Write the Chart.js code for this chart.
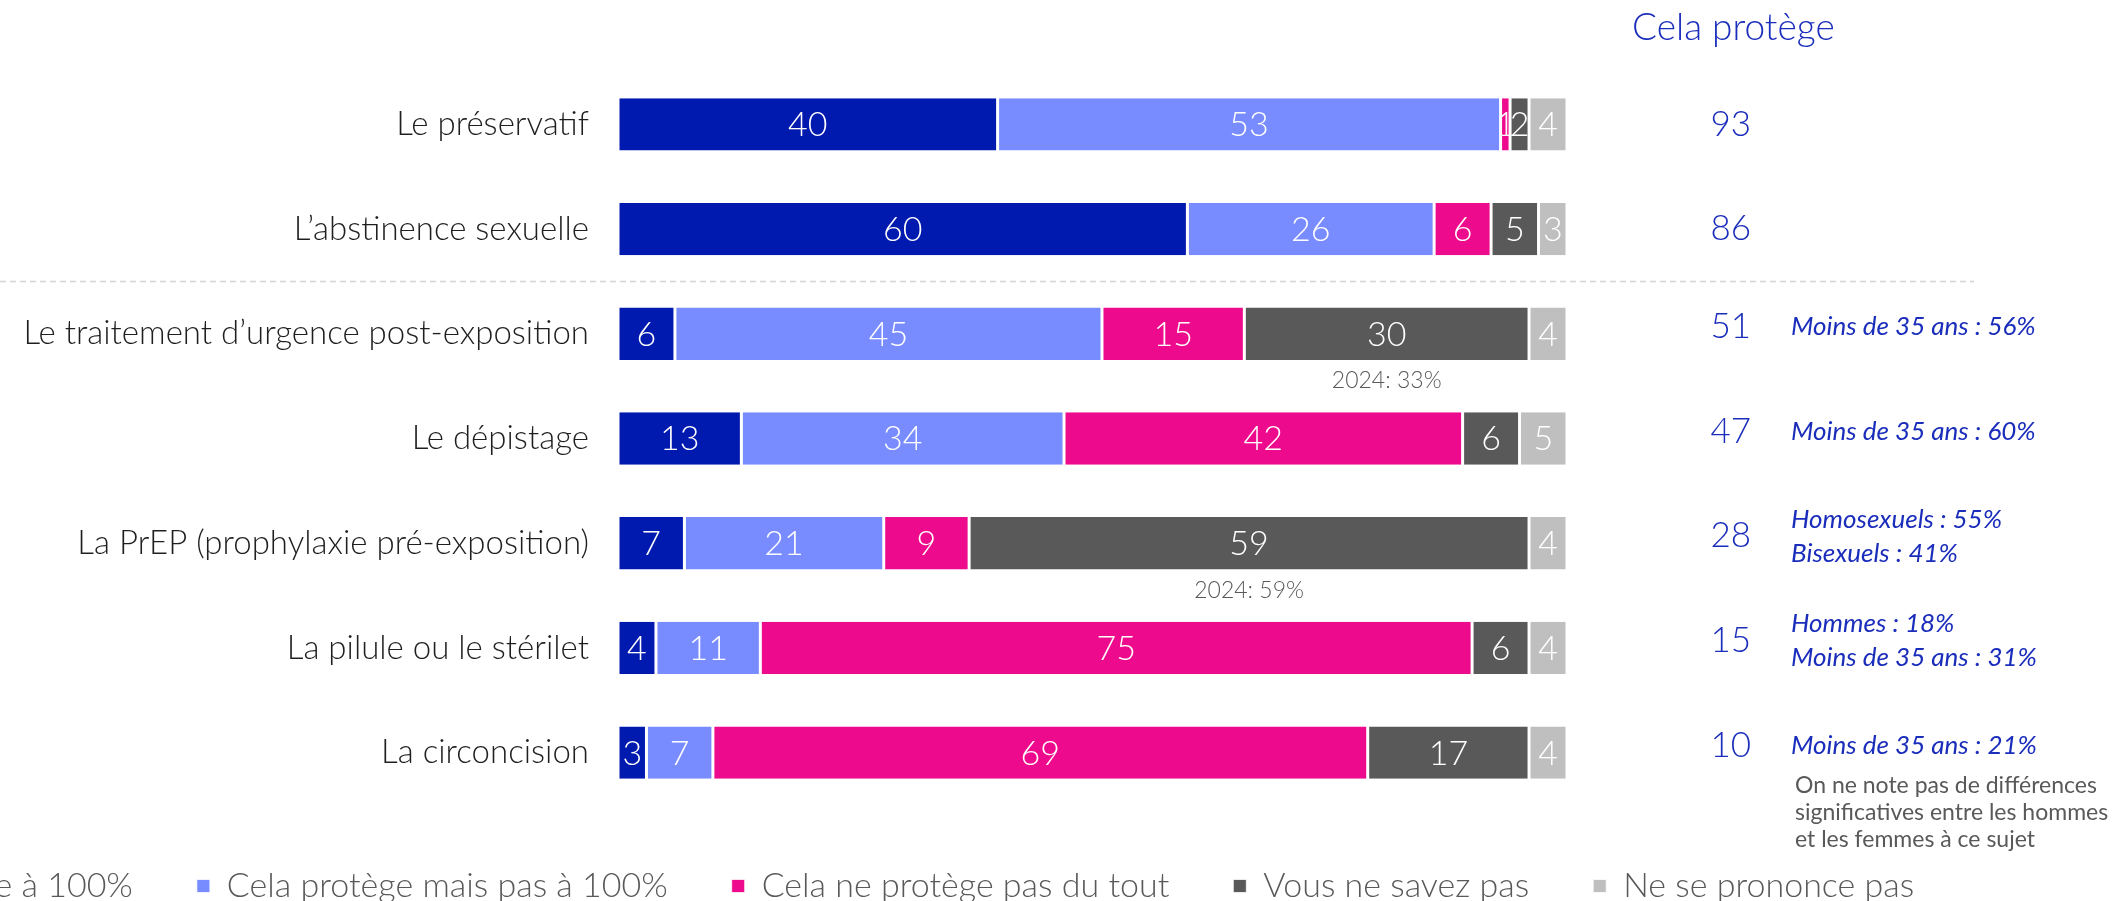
<!DOCTYPE html>
<html>
<head>
<meta charset="utf-8">
<script src="https://cdn.jsdelivr.net/npm/chart.js@4.4.1/dist/chart.umd.min.js"></script>
<style>
  html, body { margin: 0; padding: 0; background: #fff; overflow: hidden; width: 2120px; height: 901px; }
  #wrap { position: absolute; left: -320px; top: 0; width: 2440px; height: 913px; }
</style>
</head>
<body>
<div id="wrap"><canvas id="chart"></canvas></div>
<script>
const categories = [
  "Le préservatif",
  "L’abstinence sexuelle",
  "Le traitement d’urgence post-exposition",
  "Le dépistage",
  "La PrEP (prophylaxie pré-exposition)",
  "La pilule ou le stérilet",
  "La circoncision",
];
const seriesNames = [
  "Cela protège à 100%",
  "Cela protège mais pas à 100%",
  "Cela ne protège pas du tout",
  "Vous ne savez pas",
  "Ne se prononce pas",
];
const protege100 = [40, 60, 6, 13, 7, 4, 3];
const protegeMais = [53, 26, 45, 34, 21, 11, 7];
const protegePas = [1, 6, 15, 42, 9, 75, 69];
const nsp = [2, 5, 30, 6, 59, 6, 17];
const nspp = [4, 3, 4, 5, 4, 4, 4];
const totals = [93, 86, 51, 47, 28, 15, 10];
const notes = [
  [],
  [],
  ["Moins de 35 ans : 56%"],
  ["Moins de 35 ans : 60%"],
  ["Homosexuels : 55%", "Bisexuels : 41%"],
  ["Hommes : 18%", "Moins de 35 ans : 31%"],
  ["Moins de 35 ans : 21%"],
];
const footNote = [
  "On ne note pas de différences",
  "significatives entre les hommes",
  "et les femmes à ce sujet",
];
const prevRows = [2, 4];
const prevTexts = ["2024: 33%", "2024: 59%"];

const colors = ["#0019ae", "#788bff", "#ee0a8c", "#595959", "#bfbfbf"];
const FONT = "Lato, 'Open Sans', sans-serif";
const BLUE = "#1a2dbb";

const sidePlugin = {
  id: "side",
  afterDraw(chart) {
    const { ctx, chartArea } = chart;
    const y = chart.scales.y;
    ctx.save();

    // values in the bars
    ctx.textAlign = "center";
    ctx.textBaseline = "middle";
    ctx.fillStyle = "#fff";
    ctx.font = "300 34px " + FONT;
    chart.data.datasets.forEach((ds, di) => {
      chart.getDatasetMeta(di).data.forEach((bar, i) => {
        ctx.fillText(ds.data[i], (bar.x + bar.base) / 2, bar.y + 1);
      });
    });

    // 2024 reminders under "Vous ne savez pas"
    ctx.fillStyle = "#595959";
    ctx.font = "300 23px " + FONT;
    prevRows.forEach((row, k) => {
      const bar = chart.getDatasetMeta(3).data[row];
      ctx.fillText(prevTexts[k], (bar.x + bar.base) / 2, bar.y + 47);
    });

    // dashed separator
    const sepY = (y.getPixelForValue(1) + y.getPixelForValue(2)) / 2;
    ctx.strokeStyle = "#d4d4d4";
    ctx.lineWidth = 1.5;
    ctx.setLineDash([6, 4]);
    ctx.beginPath();
    ctx.moveTo(chartArea.left - 618, sepY);
    ctx.lineTo(chartArea.right + 407, sepY);
    ctx.stroke();
    ctx.setLineDash([]);

    // header
    ctx.fillStyle = BLUE;
    ctx.font = "300 37px " + FONT;
    ctx.textAlign = "left";
    ctx.fillText("Cela protège", chartArea.right + 65, 28);

    // totals and notes
    totals.forEach((t, i) => {
      const cy = y.getPixelForValue(i) - (i >= 2 ? 7 : 0);
      ctx.fillStyle = BLUE;
      ctx.textAlign = "right";
      ctx.font = "300 35px " + FONT;
      ctx.fillText(t, chartArea.right + 184, cy);
      ctx.textAlign = "left";
      ctx.font = "italic 26px " + FONT;
      const lines = notes[i];
      lines.forEach((txt, k) => {
        ctx.fillText(txt, chartArea.right + 224, cy + (k - (lines.length - 1) / 2) * 34);
      });
    });

    // footnote
    const last = y.getPixelForValue(categories.length - 1);
    ctx.fillStyle = "#595959";
    ctx.font = "23px " + FONT;
    footNote.forEach((txt, k) => {
      ctx.fillText(txt, chartArea.right + 228, last + 33 + k * 27);
    });
    ctx.restore();
  },
};

const seriesValues = [protege100, protegeMais, protegePas, nsp, nspp];

new Chart(document.getElementById("chart"), {
  type: "bar",
  data: {
    labels: categories,
    datasets: seriesValues.map((vals, i) => ({
      label: seriesNames[i],
      data: vals,
      backgroundColor: colors[i],
      borderColor: "#ffffff",
      borderWidth: { left: 1.5, right: 1.5, top: 0, bottom: 0 },
      borderSkipped: false,
      barPercentage: 0.5,
      categoryPercentage: 1,
    })),
  },
  options: {
    indexAxis: "y",
    responsive: true,
    maintainAspectRatio: false,
    animation: false,
    layout: { padding: { left: 52, top: 72, right: 0, bottom: 0 } },
    scales: {
      x: { stacked: true, min: 0, max: 100, display: false },
      y: {
        stacked: true,
        grid: { display: false, drawTicks: false },
        border: { display: false },
        ticks: { color: "#1f1f1f", padding: 29, font: { family: FONT, size: 33, weight: 300 } },
        afterFit: (scale) => { scale.width = 886; },
      },
      y2: {
        type: "category",
        position: "right",
        offset: true,
        grid: { display: false, drawTicks: false },
        border: { display: false },
        ticks: { display: false },
        afterFit: (scale) => { scale.width = 553; },
      },
    },
    plugins: {
      legend: {
        position: "bottom",
        align: "start",
        labels: {
          boxWidth: 13,
          boxHeight: 13,
          padding: 64,
          color: "#595959",
          font: { family: FONT, size: 34, weight: 300 },
        },
      },
      tooltip: { enabled: false },
    },
  },
  plugins: [sidePlugin],
});
</script>
</body>
</html>
